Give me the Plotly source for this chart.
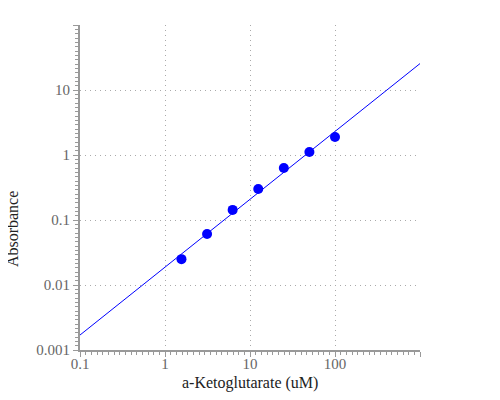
import numpy as np
import plotly.graph_objects as go

# a-Ketoglutarate standard series (uM) and measured absorbance
conc = [1.5625, 3.125, 6.25, 12.5, 25, 50, 100]
absorbance = [0.025, 0.061, 0.143, 0.30, 0.63, 1.11, 1.89]

x_ticks = [0.1, 1, 10, 100, 1000]
x_labels = ["0.1", "1", "10", "100", ""]
y_ticks = [0.001, 0.01, 0.1, 1, 10, 100]
y_labels = ["0.001", "0.01", "0.1", "1", "10", ""]

SERIF = "Liberation Serif, Times New Roman, serif"

# power-law fit done in log-log space
slope, intercept = np.polyfit(np.log10(conc), np.log10(absorbance), 1)
fit_x = np.array([x_ticks[0], x_ticks[-1]])
fit_y = 10 ** (intercept + slope * np.log10(fit_x))

# fine tick marks: 15 evenly spaced per decade
x_fine = list(10 ** np.arange(-1, 3 + 1e-9, 1 / 15))
y_fine = list(10 ** np.arange(-3, 2 + 1e-9, 1 / 15))

fig = go.Figure()
fig.add_trace(
    go.Scatter(
        x=fit_x,
        y=fit_y,
        mode="lines",
        line=dict(color="#0000ff", width=1),
        showlegend=False,
        hoverinfo="skip",
    )
)
fig.add_trace(
    go.Scatter(
        x=conc,
        y=absorbance,
        mode="markers",
        marker=dict(color="#0000ff", size=10),
        showlegend=False,
    )
)

axis_style = dict(
    type="log",
    showline=True,
    linecolor="#999999",
    linewidth=2,
    ticks="outside",
    ticklen=5,
    tickcolor="#999999",
    tickfont=dict(family=SERIF, size=15, color="#666666"),
    showgrid=True,
    gridcolor="#aaaaaa",
    griddash="1px,4px",
    gridwidth=1,
    zeroline=False,
)

fig.update_xaxes(
    range=[-1, 3],
    tickmode="array",
    tickvals=x_ticks,
    ticktext=x_labels,
    ticklabelstandoff=-6,
    minor=dict(tickmode="array", tickvals=x_fine, ticks="outside", ticklen=3,
               tickwidth=1, tickcolor="#999999", showgrid=False),
    **axis_style,
)
fig.update_yaxes(
    range=[-3, 2],
    tickmode="array",
    tickvals=y_ticks,
    ticktext=y_labels,
    minor=dict(tickmode="array", tickvals=y_fine, ticks="outside", ticklen=3,
               tickwidth=1, tickcolor="#999999", showgrid=False),
    **axis_style,
)

fig.add_annotation(
    text="a-Ketoglutarate (uM)",
    xref="paper", yref="paper",
    x=0.5, y=-0.102,
    xanchor="center", yanchor="middle",
    showarrow=False,
    font=dict(family=SERIF, size=16, color="#222222"),
)
fig.add_annotation(
    text="Absorbance",
    xref="paper", yref="paper",
    x=-0.2, y=0.372,
    xanchor="center", yanchor="middle",
    textangle=-90,
    showarrow=False,
    font=dict(family=SERIF, size=16, color="#222222"),
)

fig.update_layout(
    width=500,
    height=400,
    margin=dict(l=72, r=88, t=17, b=58),
    plot_bgcolor="white",
    paper_bgcolor="white",
)

fig.write_html("out.html")
